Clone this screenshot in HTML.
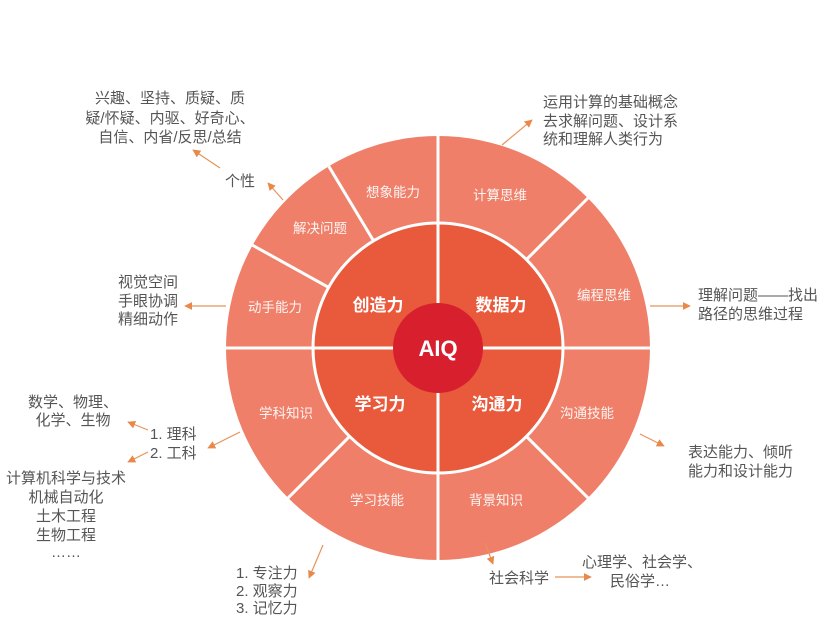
<!DOCTYPE html>
<html><head><meta charset="utf-8"><style>
html,body{margin:0;padding:0;background:#fff;}
svg{display:block;font-family:"Liberation Sans","Noto Sans CJK SC",sans-serif;}
.t{fill:#555;font-size:15px;}
.w{fill:#fff;font-size:13.5px;opacity:.92}
.b{fill:#fff;font-size:17px;font-weight:bold}
.a{stroke:#e8935a;stroke-width:1.2;fill:none;marker-end:url(#m)}
</style></head><body>
<svg width="837" height="623" viewBox="0 0 837 623">
<defs><marker id="m" viewBox="0 0 10 10" refX="9" refY="5" markerWidth="8" markerHeight="8" orient="auto" markerUnits="userSpaceOnUse"><path d="M0,0 L10,5 L0,10 z" fill="#e8894a"/></marker></defs>
<circle cx="438" cy="348" r="212" fill="#ef7f69"/>
<circle cx="438" cy="348" r="125" fill="#e9593b" stroke="#fff" stroke-width="3"/>
<g stroke="#fff" stroke-width="3">
<line x1="226" y1="348" x2="650" y2="348"/>
<line x1="438" y1="136" x2="438" y2="560"/>
<line x1="588" y1="198" x2="526.4" y2="259.6"/>
<line x1="328.8" y1="166.3" x2="373.6" y2="240.9"/>
<line x1="252.5" y1="245.2" x2="328.7" y2="287.4"/>
<line x1="288.1" y1="497.9" x2="349.6" y2="436.4"/>
<line x1="588" y1="497.9" x2="526.4" y2="436.4"/>
</g>
<circle cx="438" cy="348" r="45" fill="#d81f2e"/>
<text x="438" y="356" text-anchor="middle" fill="#fff" font-size="22" font-weight="bold">AIQ</text>
<g text-anchor="middle">
<text class="b" x="378" y="311">创造力</text>
<text class="b" x="501" y="311">数据力</text>
<text class="b" x="380" y="410">学习力</text>
<text class="b" x="497" y="410">沟通力</text>
<text class="w" x="393" y="197">想象能力</text>
<text class="w" x="500" y="200">计算思维</text>
<text class="w" x="320" y="233">解决问题</text>
<text class="w" x="604" y="300">编程思维</text>
<text class="w" x="275" y="312">动手能力</text>
<text class="w" x="286" y="418">学科知识</text>
<text class="w" x="587" y="418">沟通技能</text>
<text class="w" x="377" y="505">学习技能</text>
<text class="w" x="496" y="505">背景知识</text>
<text class="t" x="170" y="103">兴趣、坚持、质疑、质</text>
<text class="t" x="170" y="123">疑/怀疑、内驱、好奇心、</text>
<text class="t" x="170" y="142">自信、内省/反思/总结</text>
<text class="t" x="240" y="186">个性</text>
<text class="t" x="148" y="287">视觉空间</text>
<text class="t" x="148" y="306">手眼协调</text>
<text class="t" x="148" y="324">精细动作</text>
<text class="t" x="73" y="407">数学、物理、</text>
<text class="t" x="73" y="425">化学、生物</text>
<text class="t" x="66" y="483">计算机科学与技术</text>
<text class="t" x="66" y="502">机械自动化</text>
<text class="t" x="66" y="521">土木工程</text>
<text class="t" x="66" y="540">生物工程</text>
<text class="t" x="66" y="557">……</text>
<text class="t" x="519" y="583">社会科学</text>
<text class="t" x="642" y="567">心理学、社会学、</text>
<text class="t" x="640" y="586">民俗学…</text>
</g>
<text class="t" x="543" y="107">运用计算的基础概念</text>
<text class="t" x="543" y="126">去求解问题、设计系</text>
<text class="t" x="543" y="144">统和理解人类行为</text>
<text class="t" x="698" y="300">理解问题——找出</text>
<text class="t" x="698" y="319">路径的思维过程</text>
<text class="t" x="688" y="457">表达能力、倾听</text>
<text class="t" x="688" y="476">能力和设计能力</text>
<text class="t" x="150" y="439">1.  理科</text>
<text class="t" x="150" y="458">2.  工科</text>
<text class="t" x="236" y="578">1.  专注力</text>
<text class="t" x="236" y="596">2.  观察力</text>
<text class="t" x="236" y="613">3.  记忆力</text>
<line class="a" x1="283" y1="200" x2="268" y2="183"/>
<line class="a" x1="220" y1="168" x2="193" y2="150"/>
<line class="a" x1="226" y1="306" x2="185" y2="306"/>
<line class="a" x1="502" y1="145" x2="532" y2="120"/>
<line class="a" x1="650" y1="306" x2="690" y2="306"/>
<line class="a" x1="640" y1="434" x2="664" y2="446"/>
<line class="a" x1="240" y1="432" x2="208" y2="448"/>
<line class="a" x1="148" y1="430" x2="128" y2="422"/>
<line class="a" x1="148" y1="452" x2="128" y2="462"/>
<line class="a" x1="323" y1="545" x2="309" y2="578"/>
<line class="a" x1="485" y1="543" x2="493" y2="564"/>
<line class="a" x1="555" y1="577" x2="591" y2="577"/>
</svg>
</body></html>
